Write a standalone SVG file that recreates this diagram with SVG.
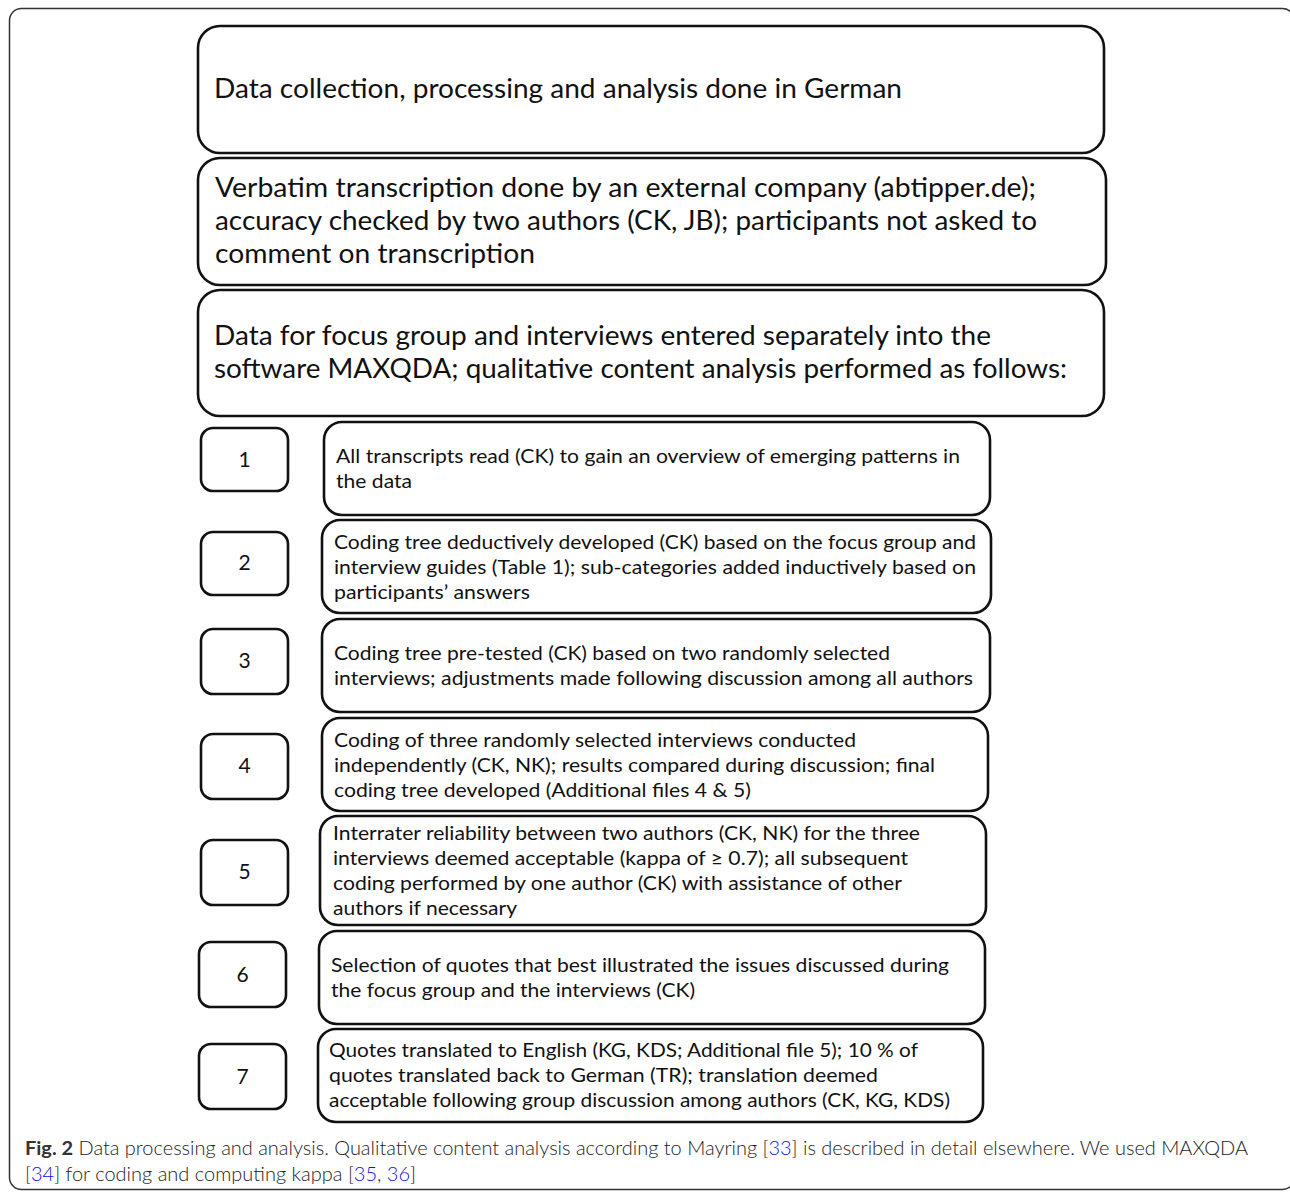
<svg xmlns="http://www.w3.org/2000/svg" width="1290" height="1192" viewBox="0 0 1290 1192">
<style>
.frame{fill:#fff;stroke:#333;stroke-width:1.5}
.box{fill:#fff;stroke:#111;stroke-width:2.6}
.big{font-family:Lato,"Open Sans","DejaVu Sans",sans-serif;font-size:27px;fill:#111}
.step{font-family:Lato,"Open Sans","DejaVu Sans",sans-serif;font-size:20px;fill:#111}
.num{font-family:Lato,"Open Sans","DejaVu Sans",sans-serif;font-size:21px;fill:#111;text-anchor:middle}
.cap{font-family:Lato,"Open Sans","DejaVu Sans",sans-serif;font-size:19.5px;font-weight:300;fill:#222}
.b{font-weight:bold;fill:#333}
.lnk{fill:#1010ee}
</style>
<rect class="frame" x="9.5" y="8.5" width="1285" height="1181" rx="12"/>
<g id="connectors"></g>
<g id="nodeA">
<rect class="box" x="198" y="26" width="906" height="127" rx="22"/>
<text class="big" x="214" y="98" textLength="688" lengthAdjust="spacingAndGlyphs">Data collection, processing and analysis done in German</text>
</g>
<g id="nodeB">
<rect class="box" x="198" y="158" width="908" height="127" rx="22"/>
<text class="big" x="215" y="197" textLength="821" lengthAdjust="spacingAndGlyphs">Verbatim transcription done by an external company (abtipper.de);</text>
<text class="big" x="215" y="230" textLength="822" lengthAdjust="spacingAndGlyphs">accuracy checked by two authors (CK, JB); participants not asked to</text>
<text class="big" x="215" y="263" textLength="320" lengthAdjust="spacingAndGlyphs">comment on transcription</text>
</g>
<g id="nodeC">
<rect class="box" x="198" y="290" width="906" height="126" rx="22"/>
<text class="big" x="214" y="345" textLength="777" lengthAdjust="spacingAndGlyphs">Data for focus group and interviews entered separately into the</text>
<text class="big" x="214" y="378" textLength="853" lengthAdjust="spacingAndGlyphs">software MAXQDA; qualitative content analysis performed as follows:</text>
</g>
<g id="num1"><rect class="box" x="201" y="428" width="87" height="63" rx="12"/><text class="num" x="244.5" y="467">1</text></g>
<g id="num2"><rect class="box" x="201" y="532" width="87" height="63" rx="12"/><text class="num" x="244.5" y="570">2</text></g>
<g id="num3"><rect class="box" x="201" y="629" width="87" height="65" rx="12"/><text class="num" x="244.5" y="668">3</text></g>
<g id="num4"><rect class="box" x="201" y="734" width="87" height="65" rx="12"/><text class="num" x="244.5" y="773">4</text></g>
<g id="num5"><rect class="box" x="201" y="840" width="87" height="65" rx="12"/><text class="num" x="244.5" y="879">5</text></g>
<g id="num6"><rect class="box" x="199" y="942" width="87" height="65" rx="12"/><text class="num" x="242.5" y="982">6</text></g>
<g id="num7"><rect class="box" x="199" y="1044" width="87" height="65" rx="12"/><text class="num" x="242.5" y="1084">7</text></g>
<g id="step1">
<rect class="box" x="324" y="422" width="666" height="93" rx="18"/>
<text class="step" x="336" y="463" textLength="624" lengthAdjust="spacingAndGlyphs">All transcripts read (CK) to gain an overview of emerging patterns in</text>
<text class="step" x="336" y="488" textLength="76" lengthAdjust="spacingAndGlyphs">the data</text>
</g>
<g id="step2">
<rect class="box" x="322" y="520" width="669" height="93" rx="18"/>
<text class="step" x="334" y="549" textLength="642" lengthAdjust="spacingAndGlyphs">Coding tree deductively developed (CK) based on the focus group and</text>
<text class="step" x="334" y="574" textLength="642" lengthAdjust="spacingAndGlyphs">interview guides (Table 1); sub-categories added inductively based on</text>
<text class="step" x="334" y="599" textLength="196" lengthAdjust="spacingAndGlyphs">participants’ answers</text>
</g>
<g id="step3">
<rect class="box" x="322" y="619" width="668" height="93" rx="18"/>
<text class="step" x="334" y="660" textLength="556" lengthAdjust="spacingAndGlyphs">Coding tree pre-tested (CK) based on two randomly selected</text>
<text class="step" x="334" y="685" textLength="639" lengthAdjust="spacingAndGlyphs">interviews; adjustments made following discussion among all authors</text>
</g>
<g id="step4">
<rect class="box" x="322" y="718" width="666" height="93" rx="18"/>
<text class="step" x="334" y="747" textLength="522" lengthAdjust="spacingAndGlyphs">Coding of three randomly selected interviews conducted</text>
<text class="step" x="334" y="772" textLength="601" lengthAdjust="spacingAndGlyphs">independently (CK, NK); results compared during discussion; final</text>
<text class="step" x="334" y="797" textLength="417" lengthAdjust="spacingAndGlyphs">coding tree developed (Additional files 4 &amp; 5)</text>
</g>
<g id="step5">
<rect class="box" x="320" y="816" width="666" height="109" rx="18"/>
<text class="step" x="333" y="840" textLength="587" lengthAdjust="spacingAndGlyphs">Interrater reliability between two authors (CK, NK) for the three</text>
<text class="step" x="333" y="865" textLength="575" lengthAdjust="spacingAndGlyphs">interviews deemed acceptable (kappa of ≥ 0.7); all subsequent</text>
<text class="step" x="333" y="890" textLength="569" lengthAdjust="spacingAndGlyphs">coding performed by one author (CK) with assistance of other</text>
<text class="step" x="333" y="915" textLength="184" lengthAdjust="spacingAndGlyphs">authors if necessary</text>
</g>
<g id="step6">
<rect class="box" x="319" y="931" width="666" height="93" rx="18"/>
<text class="step" x="331" y="972" textLength="618" lengthAdjust="spacingAndGlyphs">Selection of quotes that best illustrated the issues discussed during</text>
<text class="step" x="331" y="997" textLength="364" lengthAdjust="spacingAndGlyphs">the focus group and the interviews (CK)</text>
</g>
<g id="step7">
<rect class="box" x="318" y="1029" width="665" height="93" rx="18"/>
<text class="step" x="329" y="1057" textLength="589" lengthAdjust="spacingAndGlyphs">Quotes translated to English (KG, KDS; Additional file 5); 10 % of</text>
<text class="step" x="329" y="1082" textLength="549" lengthAdjust="spacingAndGlyphs">quotes translated back to German (TR); translation deemed</text>
<text class="step" x="329" y="1107" textLength="621" lengthAdjust="spacingAndGlyphs">acceptable following group discussion among authors (CK, KG, KDS)</text>
</g>
<g id="caption">
<text class="cap" x="25" y="1155" textLength="1223" lengthAdjust="spacingAndGlyphs"><tspan class="b">Fig. 2</tspan> Data processing and analysis. Qualitative content analysis according to Mayring [<tspan class="lnk">33</tspan>] is described in detail elsewhere. We used MAXQDA</text>
<text class="cap" x="25" y="1181" textLength="391" lengthAdjust="spacingAndGlyphs">[<tspan class="lnk">34</tspan>] for coding and computing kappa [<tspan class="lnk">35</tspan>, <tspan class="lnk">36</tspan>]</text>
</g>
</svg>
